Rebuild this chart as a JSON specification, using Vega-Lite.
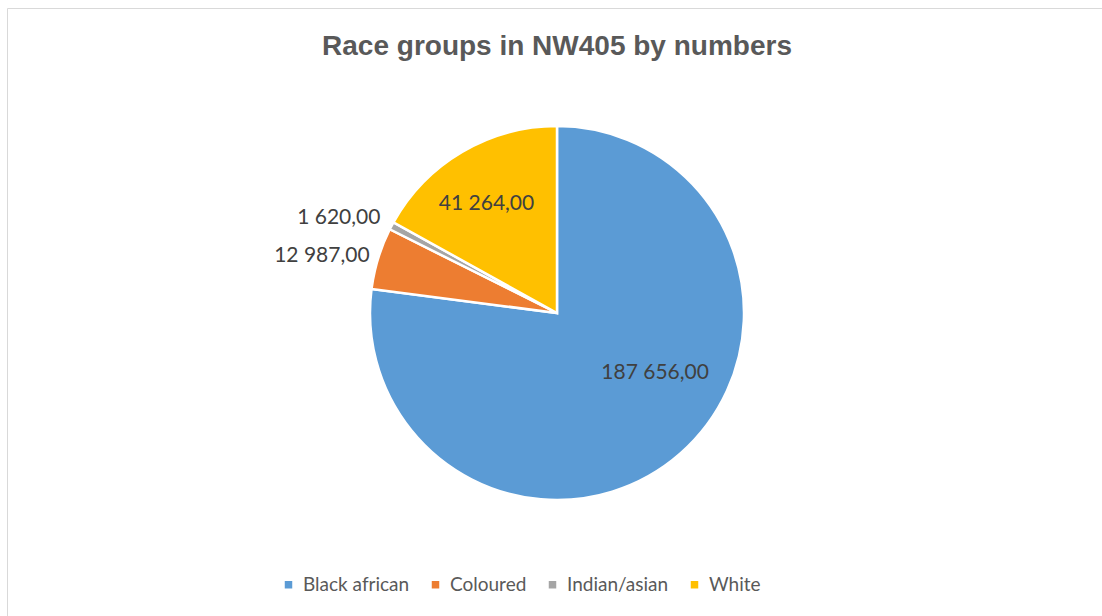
{
  "$schema": "https://vega.github.io/schema/vega-lite/v6.json",
  "width": 1100,
  "height": 610,
  "autosize": {"type": "none"},
  "padding": {"left": 7, "top": 8, "right": -5, "bottom": -2},
  "background": "white",
  "view": {"stroke": "#d9d9d9", "strokeWidth": 1, "fill": "white"},
  "config": {
    "view": {"stroke": "#d9d9d9", "strokeWidth": 1},
    "locale": {"number": {"decimal": ",", "thousands": " ", "grouping": [3], "currency": ["", ""]}}
  },
  "title": {
    "text": "Race groups in NW405 by numbers",
    "font": "Liberation Sans",
    "fontSize": 28,
    "fontWeight": "bold",
    "color": "#595959",
    "anchor": "middle",
    "frame": "group",
    "orient": "top",
    "offset": -75,
    "baseline": "alphabetic"
  },
  "data": {
    "values": [
      {"race": "Black african", "value": 187656},
      {"race": "Coloured", "value": 12987},
      {"race": "Indian/asian", "value": 1620},
      {"race": "White", "value": 41264}
    ]
  },
  "encoding": {
    "theta": {"field": "value", "type": "quantitative", "stack": true},
    "order": {"field": "race", "type": "ordinal", "sort": "ascending"},
    "color": {
      "field": "race",
      "type": "nominal",
      "scale": {
        "domain": ["Black african", "Coloured", "Indian/asian", "White"],
        "range": ["#5B9BD5", "#ED7D31", "#A5A5A5", "#FFC000"]
      },
      "legend": {
        "orient": "none",
        "legendX": 272,
        "legendY": 567,
        "direction": "horizontal",
        "title": null,
        "symbolType": "square",
        "symbolSize": 56,
        "symbolStrokeWidth": 0,
        "labelFont": "Lato",
        "labelFontSize": 19,
        "labelColor": "#595959",
        "labelOffset": 5,
        "columnPadding": 16,
        "padding": 0
      }
    }
  },
  "layer": [
    {
      "mark": {"type": "arc", "radius": 187, "stroke": "white", "strokeWidth": 2.5}
    },
    {
      "mark": {"type": "text", "radius": 131, "dx": -4, "dy": 4, "font": "Lato", "fontSize": 21, "align": "center", "baseline": "middle"},
      "encoding": {
        "fill": {"value": "#404040"},
        "text": {"condition": {"test": "datum.race === 'White'", "field": "value", "type": "quantitative", "format": ",.2f"}, "value": ""}
      }
    },
    {
      "mark": {"type": "text", "radius": 85, "dx": 42, "dy": -4, "font": "Lato", "fontSize": 21, "align": "center", "baseline": "middle"},
      "encoding": {
        "fill": {"value": "#404040"},
        "text": {"condition": {"test": "datum.race === 'Black african'", "field": "value", "type": "quantitative", "format": ",.2f"}, "value": ""}
      }
    },
    {
      "mark": {"type": "text", "radius": 196, "font": "Lato", "fontSize": 21, "align": "right", "baseline": "middle"},
      "encoding": {
        "fill": {"value": "#404040"},
        "text": {"condition": {"test": "datum.race === 'Coloured'", "field": "value", "type": "quantitative", "format": ",.2f"}, "value": ""}
      }
    },
    {
      "mark": {"type": "text", "radius": 203, "dx": 3, "font": "Lato", "fontSize": 21, "align": "right", "baseline": "middle"},
      "encoding": {
        "fill": {"value": "#404040"},
        "text": {"condition": {"test": "datum.race === 'Indian/asian'", "field": "value", "type": "quantitative", "format": ",.2f"}, "value": ""}
      }
    }
  ]
}
